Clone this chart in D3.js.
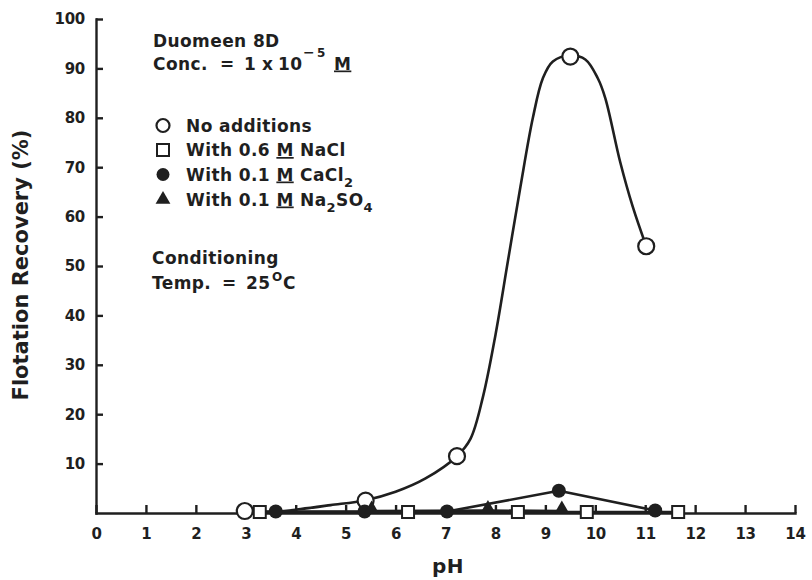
<!DOCTYPE html>
<html>
<head>
<meta charset="utf-8">
<script src="https://cdn.jsdelivr.net/npm/d3@7/dist/d3.min.js"></script>
<style>
  html, body { margin: 0; background: #fff; }
  svg { display: block; }
  .ann { font-family: "DejaVu Sans", sans-serif; font-weight: bold; font-size: 17px; fill: #1f1f1f; letter-spacing: 0.4px; }
  .axis path, .axis line { stroke: #1f1f1f; stroke-width: 2.4; }
</style>
</head>
<body>
<svg id="chart" width="812" height="580"></svg>
<script>
// Tick labels
const xTickValues = [0, 1, 2, 3, 4, 5, 6, 7, 8, 9, 10, 11, 12, 13, 14];
const yTickValues = [10, 20, 30, 40, 50, 60, 70, 80, 90, 100];

// No additions (open circles)
const noAddPH  = [2.98, 5.40, 7.23, 9.50, 11.02];
const noAddRec = [0.4, 2.5, 11.5, 92.4, 54.0];

// Hand-fitted trend through the "no additions" points
const fitPH  = [2.98, 3.60, 4.10, 4.70, 5.40, 6.00, 6.60, 7.23, 7.50, 7.75, 8.00, 8.25, 8.50, 8.75, 8.95, 9.15, 9.50, 9.80, 10.05, 10.20, 10.50, 10.75, 11.02];
const fitRec = [0.4, 0.3, 0.8, 1.6, 2.6, 4.3, 7.0, 11.5, 15.0, 23.5, 36.0, 51.0, 66.0, 80.0, 88.0, 91.4, 92.6, 91.8, 88.0, 84.0, 71.0, 62.0, 54.0];

// With 0.6 M NaCl (open squares)
const naclPH  = [3.28, 6.25, 8.45, 9.83, 11.66];
const naclRec = [0.2, 0.2, 0.2, 0.2, 0.2];

// With 0.1 M CaCl2 (filled circles)
const caclPH  = [3.60, 5.38, 7.03, 9.27, 11.20];
const caclRec = [0.3, 0.3, 0.3, 4.5, 0.5];

// With 0.1 M Na2SO4 (filled triangles)
const sulfPH  = [5.52, 7.85, 9.33];
const sulfRec = [0.4, 0.5, 0.4];

const ink = "#1f1f1f";
const svg = d3.select("#chart");

const x = d3.scaleLinear().domain([0, 14]).range([96, 795]);
const y = d3.scaleLinear().domain([0, 100]).range([513, 19]);

// Heavy numerals for the tick labels
const tickText = sel => sel
  .style("font-family", "DejaVu Sans", "important")
  .style("font-weight", "bold", "important")
  .style("font-size", "15px", "important")
  .style("letter-spacing", "-0.3px")
  .style("fill", ink);

// Axes with inward ticks
svg.append("g")
  .attr("class", "axis")
  .attr("transform", `translate(0,${y(0)})`)
  .call(d3.axisBottom(x).tickValues(xTickValues).tickFormat(d3.format("d")).tickSizeInner(-8).tickSizeOuter(0).tickPadding(15))
  .call(g => g.selectAll("text").attr("dy", "0.71em").call(tickText));

svg.append("g")
  .attr("class", "axis")
  .attr("transform", `translate(${x(0)},0)`)
  .call(d3.axisLeft(y).tickValues(yTickValues).tickFormat(d3.format("d")).tickSizeInner(-7).tickSizeOuter(0).tickPadding(11))
  .call(g => g.selectAll("text").call(tickText));

svg.selectAll(".axis path").attr("stroke-linecap", "square");

// Axis titles
svg.append("text")
  .attr("class", "ann")
  .attr("x", 448).attr("y", 573)
  .attr("text-anchor", "middle")
  .style("font-size", "20px")
  .text("pH");

svg.append("text")
  .attr("class", "ann")
  .attr("transform", "translate(28,265) rotate(-90)")
  .attr("text-anchor", "middle")
  .style("font-size", "21px")
  .style("letter-spacing", "0px")
  .text("Flotation Recovery (%)");

// Series lines
const zip = (a, b) => a.map((v, i) => [v, b[i]]);
const smooth = d3.line().x(d => x(d[0])).y(d => y(d[1])).curve(d3.curveCatmullRom.alpha(0.5));
const straight = d3.line().x(d => x(d[0])).y(d => y(d[1]));

const lineStyle = sel => sel.attr("fill", "none").attr("stroke", ink).attr("stroke-width", 2.6).attr("stroke-linejoin", "round");

svg.append("path").datum(zip(naclPH, naclRec)).attr("d", straight).call(lineStyle);
svg.append("path").datum(zip(sulfPH, sulfRec)).attr("d", straight).call(lineStyle);
svg.append("path").datum(zip(caclPH, caclRec)).attr("d", straight).call(lineStyle);
svg.append("path").datum(zip(fitPH, fitRec)).attr("d", smooth).call(lineStyle);

// Markers
svg.append("g").selectAll("circle")
  .data(zip(noAddPH, noAddRec)).join("circle")
  .attr("cx", d => x(d[0])).attr("cy", d => y(d[1])).attr("r", 8)
  .attr("fill", "#fff").attr("stroke", ink).attr("stroke-width", 2.2);

svg.append("g").selectAll("rect")
  .data(zip(naclPH, naclRec)).join("rect")
  .attr("x", d => x(d[0]) - 6).attr("y", d => y(d[1]) - 6)
  .attr("width", 12).attr("height", 12)
  .attr("fill", "#fff").attr("stroke", ink).attr("stroke-width", 2);

svg.append("g").selectAll("circle")
  .data(zip(caclPH, caclRec)).join("circle")
  .attr("cx", d => x(d[0])).attr("cy", d => y(d[1])).attr("r", 7)
  .attr("fill", ink);

const tri = d3.symbol().type(d3.symbolTriangle).size(95);
svg.append("g").selectAll("path")
  .data(zip(sulfPH, sulfRec)).join("path")
  .attr("transform", d => `translate(${x(d[0])},${y(d[1]) - 2})`)
  .attr("d", tri).attr("fill", ink);

// Header notes
svg.append("text").attr("class", "ann").attr("x", 153).attr("y", 47).text("Duomeen 8D");

const conc = svg.append("text").attr("class", "ann").attr("y", 69.5);
conc.append("tspan").attr("x", 153).text("Conc.");
conc.append("tspan").attr("x", 220).text("=");
conc.append("tspan").attr("x", 244).text("1");
conc.append("tspan").attr("x", 262).text("x");
conc.append("tspan").attr("x", 278).text("10");
conc.append("tspan").attr("x", 303).attr("y", 57).style("font-size", "14px").text("\u2212");
conc.append("tspan").attr("x", 317).attr("y", 57).style("font-size", "12px").text("5");
conc.append("tspan").attr("x", 334).attr("y", 69.5).attr("text-decoration", "underline").text("M");

// Legend
const legendRows = [
  { base: 131.5, kind: "open-circle" },
  { base: 156,   kind: "square" },
  { base: 180.5, kind: "dot" },
  { base: 205.5, kind: "triangle" }
];
const mx = 163;
legendRows.forEach((r, i) => {
  const cy = r.base - 6;
  if (r.kind === "open-circle") {
    svg.append("circle").attr("cx", mx).attr("cy", cy).attr("r", 6.5)
      .attr("fill", "#fff").attr("stroke", ink).attr("stroke-width", 2.2);
  } else if (r.kind === "square") {
    svg.append("rect").attr("x", mx - 6).attr("y", cy - 6).attr("width", 12).attr("height", 12)
      .attr("fill", "#fff").attr("stroke", ink).attr("stroke-width", 2);
  } else if (r.kind === "dot") {
    svg.append("circle").attr("cx", mx).attr("cy", cy).attr("r", 6.5).attr("fill", ink);
  } else {
    svg.append("path").attr("transform", `translate(${mx},${cy})`).attr("d", tri).attr("fill", ink);
  }
  const t = svg.append("text").attr("class", "ann").attr("x", 186).attr("y", r.base);
  if (i === 0) {
    t.text("No additions");
  } else if (i === 1) {
    t.append("tspan").text("With 0.6 ");
    t.append("tspan").attr("text-decoration", "underline").text("M");
    t.append("tspan").text(" NaCl");
  } else if (i === 2) {
    t.append("tspan").text("With 0.1 ");
    t.append("tspan").attr("text-decoration", "underline").text("M");
    t.append("tspan").text(" CaCl");
    t.append("tspan").attr("dy", 6).style("font-size", "13px").text("2");
  } else {
    t.append("tspan").text("With 0.1 ");
    t.append("tspan").attr("text-decoration", "underline").text("M");
    t.append("tspan").text(" Na");
    t.append("tspan").attr("dy", 6).style("font-size", "13px").text("2");
    t.append("tspan").attr("dy", -6).text("SO");
    t.append("tspan").attr("dy", 6).style("font-size", "13px").text("4");
  }
});

// Conditioning notes
svg.append("text").attr("class", "ann").attr("x", 152).attr("y", 263.5).text("Conditioning");
const temp = svg.append("text").attr("class", "ann").attr("y", 288.5);
temp.append("tspan").attr("x", 152).text("Temp.");
temp.append("tspan").attr("x", 222).text("=");
temp.append("tspan").attr("x", 246).text("25");
temp.append("tspan").attr("x", 272).attr("y", 281).style("font-size", "12px").text("O");
temp.append("tspan").attr("x", 283).attr("y", 288.5).text("C");
</script>
</body>
</html>
